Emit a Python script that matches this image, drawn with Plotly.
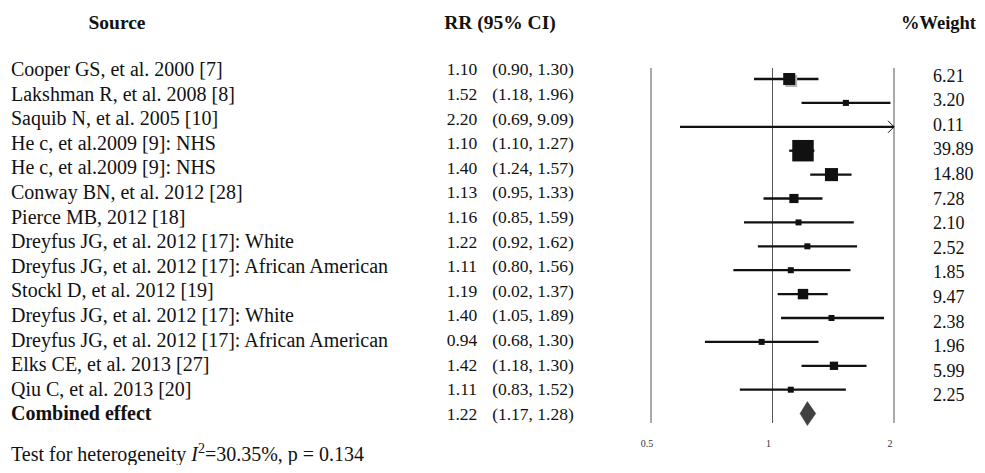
import numpy as np
import plotly.graph_objects as go

# ---------------- data ----------------
studies = [
    "Cooper GS, et al. 2000 [7]",
    "Lakshman R, et al. 2008 [8]",
    "Saquib N, et al. 2005 [10]",
    "He c, et al.2009 [9]: NHS",
    "He c, et al.2009 [9]: NHS",
    "Conway BN, et al. 2012 [28]",
    "Pierce MB, 2012 [18]",
    "Dreyfus JG, et al. 2012 [17]: White",
    "Dreyfus JG, et al. 2012 [17]: African American",
    "Stockl D, et al. 2012 [19]",
    "Dreyfus JG, et al. 2012 [17]: White",
    "Dreyfus JG, et al. 2012 [17]: African American",
    "Elks CE, et al. 2013 [27]",
    "Qiu C, et al. 2013 [20]",
]
rr_text = ["1.10", "1.52", "2.20", "1.10", "1.40", "1.13", "1.16",
           "1.22", "1.11", "1.19", "1.40", "0.94", "1.42", "1.11"]
ci_text = ["(0.90, 1.30)", "(1.18, 1.96)", "(0.69, 9.09)", "(1.10, 1.27)",
           "(1.24, 1.57)", "(0.95, 1.33)", "(0.85, 1.59)", "(0.92, 1.62)",
           "(0.80, 1.56)", "(0.02, 1.37)", "(1.05, 1.89)", "(0.68, 1.30)",
           "(1.18, 1.30)", "(0.83, 1.52)"]
weights = [6.21, 3.20, 0.11, 39.89, 14.80, 7.28, 2.10, 2.52, 1.85, 9.47,
           2.38, 1.96, 5.99, 2.25]

# values as drawn in the plot panel
rr_plot = [1.10, 1.52, 2.20, 1.19, 1.40, 1.13, 1.16, 1.22, 1.11, 1.19,
           1.40, 0.94, 1.42, 1.11]
lo_plot = [0.90, 1.18, 0.59, 1.10, 1.24, 0.95, 0.85, 0.92, 0.80, 1.03,
           1.05, 0.68, 1.18, 0.83]
hi_plot = [1.30, 1.96, 9.09, 1.27, 1.57, 1.33, 1.59, 1.62, 1.56, 1.37,
           1.89, 1.30, 1.71, 1.52]

combined_label = "Combined effect"
combined_rr = 1.22
combined_lo = 1.17
combined_hi = 1.28
combined_rr_text = "1.22"
combined_ci_text = "(1.17, 1.28)"

ref_lines = [0.5, 1, 2]
tick_labels = ["0.5", "1", "2"]
heterogeneity = "Test for heterogeneity <i>I</i><sup>2</sup>=30.35%, p = 0.134"

# ---------------- layout helpers (screen px, page has 8px body margin) ----------------
OFF = 8
W, H = 985 - 2 * OFF, 473 - 2 * OFF
XMIN, XMAX = 0.5, 2.0
PX_MIN, PX_MAX = 651 - OFF, 894 - OFF        # pixel of 0.5 and 2
DOM_L, DOM_R = 640 - OFF, 906 - OFF
px_per_dec = (PX_MAX - PX_MIN) / (np.log10(XMAX) - np.log10(XMIN))
x_range = [np.log10(XMIN) - (PX_MIN - DOM_L) / px_per_dec,
           np.log10(XMAX) + (DOM_R - PX_MAX) / px_per_dec]

ROW0, ROWSTEP = 79 - OFF, 23.9             # mark rows
PLOT_BOTTOM = 436 - OFF
y_range = [(PLOT_BOTTOM - ROW0) / ROWSTEP, -ROW0 / ROWSTEP]

TROW0, TSTEP = 69 - OFF + 2, 24.6          # text rows
y3_range = [(H - TROW0) / TSTEP, -TROW0 / TSTEP]


def trow(py):
    return (py - OFF + 2 - TROW0) / TSTEP


SERIF = "Liberation Serif, Times New Roman, serif"
INK = "#111111"

n = len(studies)
rows = np.arange(n)
fig = go.Figure()

# reference lines
for v in ref_lines:
    fig.add_shape(type="line", xref="x", yref="y", x0=v, x1=v,
                  y0=(68 - OFF - ROW0) / ROWSTEP, y1=(423 - OFF - ROW0) / ROWSTEP,
                  line=dict(color="#555555", width=1), layer="below")

# whiskers
xs, ys = [], []
for i in range(n):
    xs += [lo_plot[i], min(hi_plot[i], XMAX), None]
    ys += [i, i, None]
fig.add_trace(go.Scatter(x=xs, y=ys, mode="lines",
                         line=dict(color=INK, width=2.3),
                         hoverinfo="skip", showlegend=False))

# arrows for truncated CIs
ax, ay = [], []
back = XMAX * 2 ** (-6 / 121.5)
half = 6 / ROWSTEP
for i in range(n):
    if hi_plot[i] > XMAX:
        ax += [back, XMAX, back, None]
        ay += [i - half, i, i + half, None]
fig.add_trace(go.Scatter(x=ax, y=ay, mode="lines",
                         line=dict(color=INK, width=1),
                         hoverinfo="skip", showlegend=False))

# boxes (size ~ sqrt(weight))
vis = [i for i in range(n) if XMIN <= rr_plot[i] <= XMAX]
sizes = [max(6.0, 3.4 * np.sqrt(weights[i])) for i in vis]
if vis[0] == 0:
    sizes[0] = 12
# shadow under first box
fig.add_trace(go.Scatter(x=[rr_plot[0] * 2 ** (2 / 121.5)], y=[0 + 2 / ROWSTEP],
                         mode="markers",
                         marker=dict(symbol="square", size=12, color="#b5b5b5",
                                     opacity=1, line=dict(width=0)),
                         hoverinfo="skip", showlegend=False))
fig.add_trace(go.Scatter(x=[rr_plot[i] for i in vis], y=[rows[i] for i in vis],
                         mode="markers",
                         marker=dict(symbol="square", size=sizes, color=INK,
                                     opacity=1, line=dict(width=0)),
                         hoverinfo="skip", showlegend=False))

# combined diamond
dh = 12 / ROWSTEP
fig.add_trace(go.Scatter(x=[combined_lo, combined_rr, combined_hi, combined_rr, combined_lo],
                         y=[n, n - dh, n, n + dh, n],
                         mode="lines", fill="toself", fillcolor="#404040",
                         line=dict(color="#404040", width=0.5),
                         hoverinfo="skip", showlegend=False))


# ---------------- text columns (x in screen px) ----------------
def txt(x, y, t, size, pos="middle right", bold=False):
    fig.add_trace(go.Scatter(
        x=x, y=y,
        text=[f"<b>{s}</b>" if bold else s for s in t],
        mode="text", textposition=pos, xaxis="x2", yaxis="y3",
        textfont=dict(family=SERIF, size=size, color="#111111"),
        hoverinfo="skip", showlegend=False, cliponaxis=False))


# headers
txt([117], [trow(22)], ["Source"], 19.5, "middle center", bold=True)
txt([500], [trow(22)], ["RR (95% CI)"], 19.5, "middle center", bold=True)
txt([976], [trow(22)], ["%Weight"], 18.5, "middle left", bold=True)

txt([11] * n, list(rows), studies, 20)
txt([11], [n], [combined_label], 20, bold=True)
txt([462] * (n + 1), list(rows) + [n], rr_text + [combined_rr_text], 17.5, "middle center")
txt([533] * (n + 1), list(rows) + [n], ci_text + [combined_ci_text], 17.5, "middle center")
txt([933] * n, list(rows + 6 / TSTEP), [f"{w:.2f}" for w in weights], 18)
txt([11], [trow(454)], [heterogeneity], 20)

fig.update_layout(
    width=W, height=H,
    margin=dict(l=0, r=0, t=0, b=0),
    paper_bgcolor="white", plot_bgcolor="rgba(0,0,0,0)",
    showlegend=False,
    xaxis=dict(type="log", range=x_range, domain=[DOM_L / W, DOM_R / W],
               anchor="y", showgrid=False, zeroline=False, showline=False,
               tickvals=ref_lines, ticktext=tick_labels, ticks="",
               tickfont=dict(family=SERIF, size=10, color="#333333"),
               ticklabelshift=-4, fixedrange=True),
    yaxis=dict(range=y_range, domain=[1 - PLOT_BOTTOM / H, 1], anchor="x",
               showgrid=False, zeroline=False, showline=False,
               showticklabels=False, fixedrange=True),
    xaxis2=dict(range=[OFF, OFF + W], domain=[0, 1], anchor="y3", visible=False,
                fixedrange=True),
    yaxis3=dict(range=y3_range, domain=[0, 1], anchor="x2", visible=False,
                fixedrange=True),
)

fig.write_html("out.html")
